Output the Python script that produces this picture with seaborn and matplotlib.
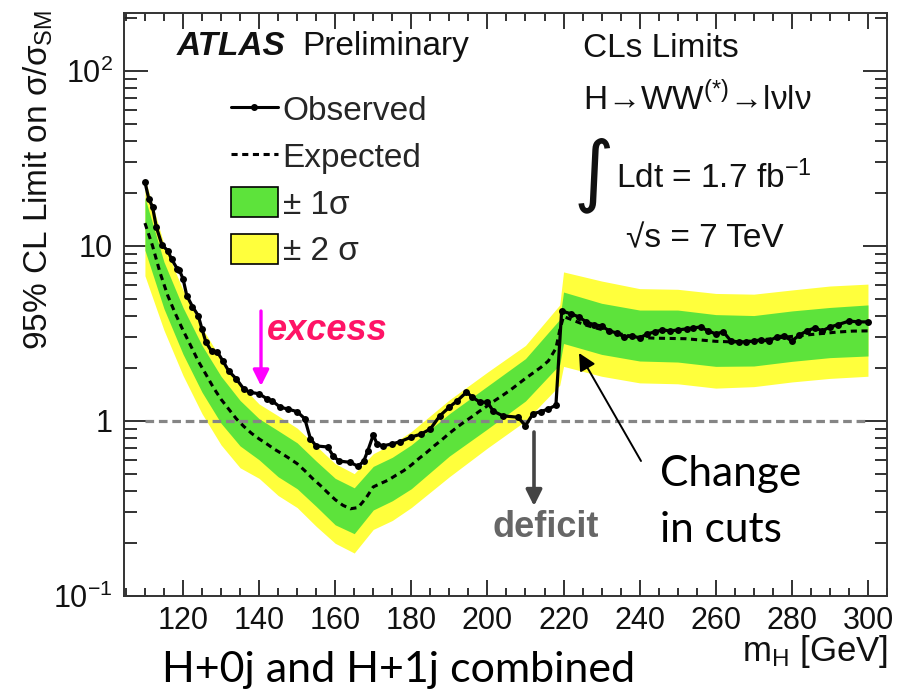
import numpy as np
import pandas as pd
import seaborn as sns
import matplotlib
matplotlib.use("Agg")
import matplotlib.pyplot as plt
from matplotlib.lines import Line2D
from matplotlib.patches import Patch
from matplotlib.ticker import FixedLocator, LogLocator, MultipleLocator, NullFormatter

# ---- observed CLs limit (sigma / sigma_SM) vs Higgs mass [GeV]
obs_mass = [110, 111, 112, 113, 114.5, 116, 117, 118.5, 119, 120, 121, 122.5, 124, 125, 126,
            127.5, 129, 130.5, 132, 134, 136, 137.5, 140, 142, 143.5, 145.5, 147.5, 150, 152,
            153.5, 155, 158, 159.5, 161, 164, 166, 167.5, 168.5, 170, 171, 172.5, 175, 177,
            180, 182.5, 185, 187.5, 190, 192, 194.5, 196, 198, 200, 201.5, 204, 208, 210, 212,
            214, 216, 218, 219.5, 222, 224, 226, 228, 230, 232, 234, 236, 238, 240, 242, 244,
            246, 248, 250, 252.5, 254, 256, 258, 260, 262, 264, 266, 268, 270, 272, 274, 276,
            278, 280, 282, 284, 286, 288, 290, 292, 295, 297.5, 300]
obs_limit = [23.2, 18.6, 16.7, 12.8, 10.1, 9.4, 8.4, 7.4, 7.3, 6.5, 5.2, 4.5, 4.0, 3.35, 2.83,
             2.5, 2.48, 2.2, 1.93, 1.74, 1.52, 1.46, 1.43, 1.34, 1.30, 1.20, 1.17, 1.13, 1.03,
             0.79, 0.72, 0.71, 0.63, 0.59, 0.58, 0.55, 0.59, 0.67, 0.83, 0.74, 0.72, 0.74, 0.76,
             0.81, 0.84, 0.90, 1.07, 1.20, 1.30, 1.46, 1.37, 1.28, 1.28, 1.14, 1.07, 1.05, 0.94, 1.10,
             1.13, 1.17, 1.23, 4.25, 4.09, 3.93, 3.68, 3.54, 3.49, 3.27, 3.18, 3.02, 3.06, 2.98, 3.14, 3.23,
             3.31, 3.27, 3.31, 3.36, 3.40, 3.44, 3.27, 3.14, 3.23, 2.86, 2.83, 2.83, 2.86, 2.90, 2.86, 3.02,
             3.06, 2.86, 3.10, 3.27, 3.40, 3.27, 3.44, 3.54, 3.72, 3.68, 3.68]

# ---- median expected limit
exp_mass = [110, 112, 114, 116, 118, 120, 122, 124, 126, 128, 130, 132, 134, 136, 138, 140, 142,
            144, 146, 148, 150, 152, 154, 156, 158, 160, 162, 164, 166, 168, 170, 172, 174, 176,
            178, 180, 182, 184, 186, 188, 190, 192, 194, 196, 198, 200, 202, 204, 206, 208, 210,
            212, 214, 216, 218, 219, 220, 222, 224, 226, 228, 230, 232, 234, 236, 238, 240, 244,
            248, 252, 256, 260, 264, 268, 272, 276, 280, 284, 288, 292, 296, 300]
exp_limit = [13.5, 10.0, 7.0, 5.2, 4.1, 3.3, 2.7, 2.2, 1.85, 1.55, 1.33, 1.17, 1.03, 0.93, 0.85,
             0.79, 0.74, 0.69, 0.65, 0.61, 0.57, 0.52, 0.47, 0.43, 0.39, 0.355, 0.33, 0.315, 0.32,
             0.36, 0.42, 0.44, 0.46, 0.49, 0.52, 0.56, 0.61, 0.66, 0.72, 0.78, 0.85, 0.92, 0.99,
             1.06, 1.14, 1.22, 1.31, 1.40, 1.50, 1.62, 1.75, 1.88, 2.02, 2.2, 2.6, 3.3, 3.95, 3.8,
             3.65, 3.52, 3.42, 3.33, 3.25, 3.18, 3.1, 3.04, 3.0, 2.97, 2.96, 2.95, 2.9, 2.85, 2.83,
             2.84, 2.9, 2.98, 3.04, 3.1, 3.16, 3.22, 3.26, 3.27]

# ---- expected +-1 sigma and +-2 sigma bands
band_mass = [110, 115, 120, 125, 130, 135, 140, 145, 150, 155, 160, 165, 170, 175, 180, 190,
             200, 210, 219, 220, 230, 240, 250, 260, 270, 280, 290, 300]
band_plus2 = [24.3, 10.2, 5.6, 3.4, 2.26, 1.62, 1.25, 1.07, 0.91, 0.72, 0.57, 0.50, 0.65, 0.74,
              0.87, 1.32, 1.9, 2.7, 4.6, 7.1, 6.3, 5.7, 5.65, 5.35, 5.3, 5.6, 5.9, 6.05]
band_plus1 = [18.9, 8.1, 4.45, 2.7, 1.8, 1.31, 1.03, 0.88, 0.75, 0.59, 0.47, 0.415, 0.55, 0.62,
              0.73, 1.1, 1.58, 2.27, 3.8, 5.45, 4.7, 4.3, 4.3, 4.05, 4.0, 4.25, 4.45, 4.6]
band_minus1 = [9.45, 4.38, 2.41, 1.46, 0.97, 0.72, 0.60, 0.48, 0.41, 0.325, 0.255, 0.227, 0.31,
               0.35, 0.41, 0.63, 0.9, 1.3, 2.1, 2.77, 2.4, 2.2, 2.17, 2.05, 2.06, 2.19, 2.3, 2.35]
band_minus2 = [6.75, 3.3, 1.82, 1.1, 0.73, 0.54, 0.47, 0.375, 0.32, 0.25, 0.20, 0.176, 0.24,
               0.27, 0.32, 0.48, 0.7, 1.0, 1.6, 2.05, 1.8, 1.65, 1.63, 1.54, 1.57, 1.67, 1.75, 1.8]

sm_ratio = 1.0
ytick_vals = [0.1, 1, 10, 100]
ytick_text = [r"10$^{-1}$", "1", "10", r"10$^{2}$"]
xtick_vals = [120, 140, 160, 180, 200, 220, 240, 260, 280, 300]

GREEN = "#5de33b"
YELLOW = "#ffff3c"

sns.set_theme(style="ticks")
plt.rcParams["font.family"] = ["Liberation Sans", "DejaVu Sans"]
plt.rcParams["mathtext.fontset"] = "custom"
plt.rcParams["mathtext.rm"] = "Liberation Sans"
plt.rcParams["mathtext.it"] = "Liberation Sans:italic"
plt.rcParams["mathtext.bf"] = "Liberation Sans:bold"

W, H = 910, 690
fig = plt.figure(figsize=(W / 100, H / 100), dpi=100)
fig.patch.set_facecolor("white")


def fx(px):
    return px / W


def fy(py):
    return 1 - py / H


ax = fig.add_axes([fx(124), fy(596), fx(887) - fx(124), fy(13) - fy(596)])
ax.set_facecolor("white")

ax.fill_between(band_mass, band_minus2, band_plus2, color=YELLOW, lw=0, zorder=1)
ax.fill_between(band_mass, band_minus1, band_plus1, color=GREEN, lw=0, zorder=2)

ax.hlines(sm_ratio, exp_mass[0], exp_mass[-1], colors="#858585", lw=2.3,
          linestyles=(0, (2.7, 1.5)), zorder=3)

df_exp = pd.DataFrame({"mass": exp_mass, "limit": exp_limit})
df_obs = pd.DataFrame({"mass": obs_mass, "limit": obs_limit})
sns.lineplot(data=df_exp, x="mass", y="limit", ax=ax, color="black", lw=2.2, zorder=4)
ax.lines[-1].set_dashes((2.0, 1.5))
sns.lineplot(data=df_obs, x="mass", y="limit", ax=ax, color="black", lw=2.3, marker="o",
             markersize=5, markeredgewidth=0, zorder=5)

ax.set_yscale("log")
ax.set_xlim(104.5, 305)
ax.set_ylim(0.1, 214)
ax.set_xlabel("")
ax.set_ylabel("")

ax.xaxis.set_major_locator(FixedLocator(xtick_vals))
ax.xaxis.set_minor_locator(MultipleLocator(5))
ax.yaxis.set_major_locator(FixedLocator(ytick_vals))
ax.set_yticklabels(ytick_text)
ax.yaxis.set_minor_locator(LogLocator(base=10, subs=np.arange(2, 10)))
ax.yaxis.set_minor_formatter(NullFormatter())

ax.tick_params(axis="both", which="both", direction="in", top=True, right=True,
               colors="#222222", labelcolor="#111111", width=1.3)
ax.tick_params(axis="x", which="major", length=11.5, labelsize=22, pad=7)
ax.tick_params(axis="x", which="minor", length=6)
ax.tick_params(axis="y", which="major", length=17, labelsize=22, pad=8)
ax.tick_params(axis="y", which="minor", length=9)
for s in ax.spines.values():
    s.set_color("#333333")
    s.set_linewidth(1.4)

# axis titles
fig.text(fx(888), fy(661), r"m$_{\mathrm{H}}$ [GeV]", ha="right", va="baseline", fontsize=25,
         color="#111111")
fig.text(fx(38), fy(10), r"95% CL Limit on σ/σ$_{\mathrm{SM}}$", rotation=90, ha="center",
         va="top", fontsize=24, color="#111111")

# legend
handles = [Line2D([], [], color="black", lw=2.2, marker="o", markersize=4, markevery=[1]),
           Line2D([], [], color="black", lw=2.2, dashes=(2.0, 1.5)),
           Patch(facecolor=GREEN, edgecolor="black", lw=1.2),
           Patch(facecolor=YELLOW, edgecolor="black", lw=1.2)]
leg = fig.legend(handles, ["Observed", "Expected", "± 1σ", "± 2 σ"],
                 loc="upper left", bbox_to_anchor=(fx(231), fy(94)), frameon=False,
                 fontsize=24, handlelength=1.4, handleheight=1.0, handletextpad=0.15,
                 labelspacing=0.4, borderpad=0, borderaxespad=0)

# experiment labels
fig.text(fx(177), fy(55), "ATLAS", fontsize=24, fontweight="bold", fontstyle="italic",
         ha="left", va="baseline", color="#111111")
fig.text(fx(302), fy(55), "Preliminary", fontsize=24, ha="left", va="baseline", color="#111111")
fig.text(fx(583), fy(57), "CLs Limits", fontsize=24, ha="left", va="baseline", color="#111111")
fig.text(fx(583), fy(110), r"H→WW$^{(*)}$→lνlν", fontsize=24, ha="left", va="baseline",
         color="#111111")
fig.text(fx(594), fy(175), "∫", fontsize=56, ha="center", va="center", color="#111111",
         family=["DejaVu Sans"])
fig.text(fx(616), fy(188), r"Ldt = 1.7 fb$^{-1}$", fontsize=24, ha="left", va="baseline",
         color="#111111")
fig.text(fx(626), fy(247), "√s = 7 TeV", fontsize=24, ha="left", va="baseline",
         color="#111111", family=["Liberation Sans", "DejaVu Sans"])

# annotations
fig.text(fx(267), fy(340), "excess", fontsize=26, fontweight="bold", fontstyle="italic",
         color="#ff1466", ha="left", va="baseline")
ax.annotate("", xy=(fx(261), fy(386)), xytext=(fx(261), fy(311)),
            xycoords="figure fraction", textcoords="figure fraction",
            arrowprops=dict(arrowstyle="-|>", color="#ff00ff", lw=2.4, mutation_scale=24,
                            shrinkA=0, shrinkB=0))
fig.text(fx(493), fy(537), "deficit", fontsize=26, fontweight="bold", color="#666666",
         ha="left", va="baseline")
ax.annotate("", xy=(fx(534), fy(506)), xytext=(fx(534), fy(432)),
            xycoords="figure fraction", textcoords="figure fraction",
            arrowprops=dict(arrowstyle="-|>", color="#444444", lw=2.6, mutation_scale=24,
                            shrinkA=0, shrinkB=0))
fig.text(fx(660), fy(486), "Change", fontsize=30.5, family=["Lato", "DejaVu Sans"],
         color="black", ha="left", va="baseline")
fig.text(fx(660), fy(542), "in cuts", fontsize=30.5, family=["Lato", "DejaVu Sans"],
         color="black", ha="left", va="baseline")
ax.annotate("", xy=(fx(579), fy(353)), xytext=(fx(641), fy(461)),
            xycoords="figure fraction", textcoords="figure fraction",
            arrowprops=dict(arrowstyle="-|>", color="black", lw=1.4, mutation_scale=26,
                            shrinkA=0, shrinkB=0))
fig.text(fx(162), fy(682), "H+0j and H+1j combined", fontsize=31,
         family=["Lato", "DejaVu Sans"], color="black", ha="left", va="baseline")

fig.savefig("out.png", dpi=100)
